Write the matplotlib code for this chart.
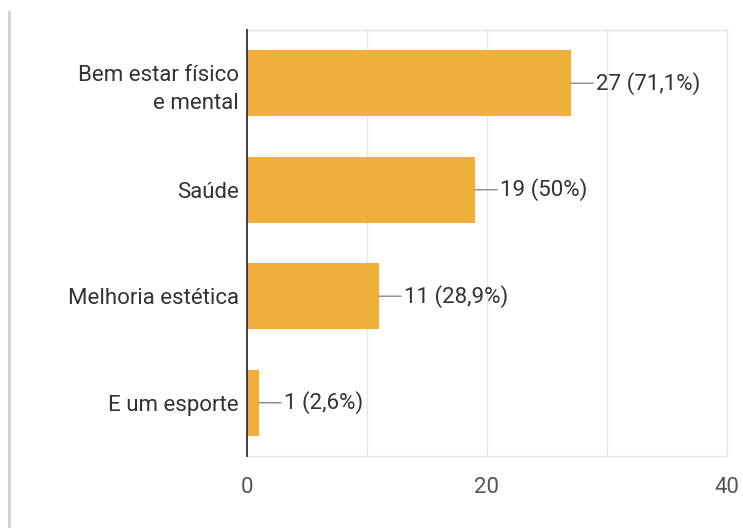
"""Horizontal bar chart of survey answers with count and share labels."""

import matplotlib
matplotlib.use("Agg")
import matplotlib.pyplot as plt
from matplotlib.lines import Line2D

plt.rcParams["font.family"] = ["Roboto", "DejaVu Sans"]

categories = ["Bem estar físico\ne mental", "Saúde", "Melhoria estética", "E um esporte"]
counts = [27, 19, 11, 1]
shares = ["71,1%", "50%", "28,9%", "2,6%"]
x_ticks = [0, 20, 40]
grid_x = [10, 20, 30, 40]

BAR_COLOR = "#F0AE3B"
TEXT_COLOR = "#333333"
TICK_COLOR = "#555555"
GRID_COLOR = "#E6E6E6"
FS = 16

fig = plt.figure(figsize=(7.43, 5.28), dpi=100)
ax = fig.add_axes([0.3324, 0.1364, 0.6461, 0.8068])

ypos = list(range(len(categories)))
ax.barh(ypos, counts, height=0.62, color=BAR_COLOR, zorder=2)

for y, c, s in zip(ypos, counts, shares):
    ax.annotate(f"{c} ({s})", xy=(c, y), xytext=(18, 0), textcoords="offset points",
                ha="left", va="center", fontsize=FS, color=TEXT_COLOR,
                arrowprops=dict(arrowstyle="-", color="#8A8A8A", lw=1.0,
                                shrinkA=0, shrinkB=0))

ax.set_xlim(0, 40)
ax.set_ylim(len(categories) - 0.5, -0.5)
ax.set_xticks(x_ticks)
ax.set_xticklabels([str(t) for t in x_ticks])
ax.set_yticks(ypos)
ax.set_yticklabels(categories, linespacing=1.45)
ax.tick_params(axis="x", length=0, pad=15, labelsize=FS, labelcolor=TICK_COLOR)
ax.tick_params(axis="y", length=0, pad=6, labelsize=FS, labelcolor=TEXT_COLOR)

for gx in grid_x:
    ax.axvline(gx, color=GRID_COLOR, lw=1, zorder=0)

for side in ["top", "right", "bottom"]:
    ax.spines[side].set_color(GRID_COLOR)
    ax.spines[side].set_linewidth(1)
ax.spines["left"].set_color("#333333")
ax.spines["left"].set_linewidth(1.3)
ax.spines["left"].set_zorder(3)

# card edge on the left side
fig.add_artist(Line2D([0.0115, 0.0115], [0.0, 0.978], color="#D0D0D0", lw=2,
                      transform=fig.transFigure))

fig.savefig("out.png", dpi=100, facecolor="white")
